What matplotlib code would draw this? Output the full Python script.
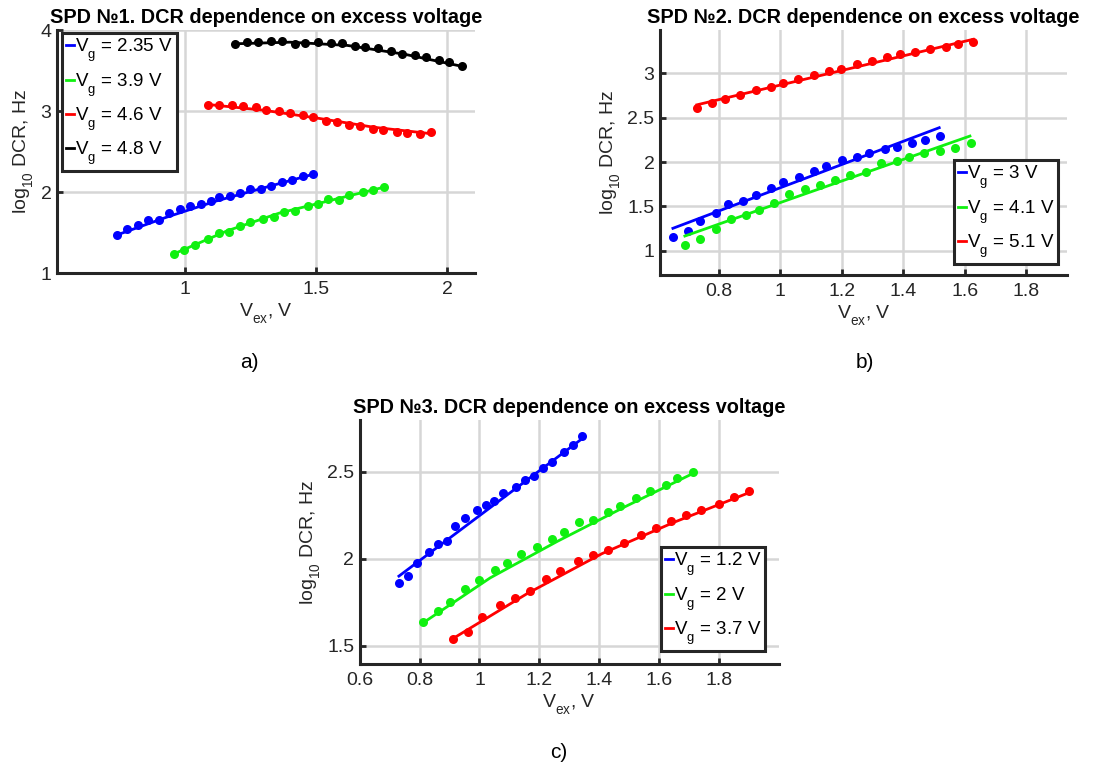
import numpy as np
import matplotlib.pyplot as plt
import matplotlib._mathtext as mt

plt.rcParams['font.family'] = ['Liberation Sans', 'DejaVu Sans']
plt.rcParams['mathtext.fontset'] = 'custom'
plt.rcParams['mathtext.rm'] = 'Liberation Sans'
plt.rcParams['mathtext.it'] = 'Liberation Sans'
# MATLAB drops subscripts lower than matplotlib does
mt.FontConstantsBase.sub1 = 0.75
mt.FontConstantsBase.sub2 = 0.85

# ---- SPD 1 ----
a_blue_x = [0.739, 0.779, 0.819, 0.859, 0.899, 0.939, 0.979, 1.019, 1.059, 1.099,
            1.129, 1.170, 1.209, 1.249, 1.290, 1.330, 1.369, 1.410, 1.449, 1.490]
a_blue_y = [1.464, 1.538, 1.596, 1.654, 1.654, 1.737, 1.786, 1.828, 1.853, 1.894,
            1.935, 1.952, 1.993, 2.035, 2.043, 2.076, 2.126, 2.151, 2.192, 2.221]
a_green_x = [0.958, 0.997, 1.039, 1.088, 1.128, 1.169, 1.209, 1.249, 1.299, 1.338,
             1.379, 1.418, 1.469, 1.509, 1.547, 1.588, 1.627, 1.678, 1.718, 1.760]
a_green_y = [1.236, 1.290, 1.340, 1.422, 1.489, 1.505, 1.580, 1.629, 1.662, 1.695,
             1.753, 1.770, 1.828, 1.853, 1.911, 1.902, 1.960, 2.002, 2.026, 2.060]
a_red_x = [1.089, 1.130, 1.178, 1.222, 1.270, 1.309, 1.360, 1.401, 1.449, 1.490,
           1.538, 1.579, 1.627, 1.668, 1.716, 1.757, 1.808, 1.849, 1.897, 1.938]
a_red_y = [3.077, 3.077, 3.069, 3.061, 3.044, 3.011, 3.003, 2.978, 2.945, 2.928,
           2.879, 2.862, 2.829, 2.813, 2.780, 2.763, 2.746, 2.730, 2.722, 2.738]
a_black_x = [1.190, 1.238, 1.279, 1.328, 1.369, 1.419, 1.458, 1.509, 1.557, 1.598,
             1.648, 1.688, 1.737, 1.788, 1.828, 1.878, 1.919, 1.968, 2.008, 2.059]
a_black_y = [3.826, 3.847, 3.855, 3.863, 3.863, 3.822, 3.835, 3.851, 3.835, 3.839,
             3.801, 3.789, 3.772, 3.739, 3.698, 3.690, 3.661, 3.624, 3.607, 3.557]
# fitted curves (knots)
a_blue_fx = [0.74, 0.93, 1.12, 1.31, 1.49]
a_blue_fy = [1.47, 1.69, 1.89, 2.06, 2.22]
a_green_fx = [0.96, 1.16, 1.36, 1.56, 1.76]
a_green_fy = [1.24, 1.52, 1.74, 1.90, 2.06]
a_red_fx = [1.09, 1.30, 1.51, 1.72, 1.94]
a_red_fy = [3.08, 3.01, 2.91, 2.80, 2.72]
a_black_fx = [1.19, 1.40, 1.62, 1.84, 2.06]
a_black_fy = [3.83, 3.85, 3.81, 3.70, 3.55]
a_labels = ['2.35', '3.9', '4.6', '4.8']

# ---- SPD 2 ----
b_blue_x = [0.650, 0.700, 0.739, 0.789, 0.829, 0.878, 0.920, 0.970, 1.009, 1.060,
            1.109, 1.148, 1.199, 1.248, 1.289, 1.339, 1.380, 1.429, 1.470, 1.520]
b_blue_y = [1.158, 1.226, 1.331, 1.429, 1.526, 1.564, 1.628, 1.703, 1.778, 1.835,
            1.902, 1.955, 2.023, 2.060, 2.105, 2.143, 2.173, 2.218, 2.248, 2.297]
b_green_x = [0.689, 0.739, 0.789, 0.840, 0.889, 0.929, 0.980, 1.029, 1.079, 1.130,
             1.179, 1.228, 1.278, 1.328, 1.378, 1.418, 1.469, 1.520, 1.570, 1.620]
b_green_y = [1.064, 1.135, 1.241, 1.353, 1.402, 1.459, 1.541, 1.639, 1.699, 1.741,
             1.797, 1.853, 1.891, 1.985, 2.015, 2.053, 2.105, 2.128, 2.158, 2.211]
b_red_x = [0.728, 0.778, 0.818, 0.869, 0.919, 0.968, 1.008, 1.058, 1.108, 1.158,
           1.198, 1.248, 1.298, 1.348, 1.389, 1.438, 1.487, 1.539, 1.579, 1.628]
b_red_y = [2.605, 2.669, 2.711, 2.756, 2.812, 2.850, 2.887, 2.940, 2.977, 3.030,
           3.053, 3.105, 3.143, 3.180, 3.218, 3.244, 3.278, 3.301, 3.327, 3.357]
b_blue_fx = [0.650, 1.517]
b_blue_fy = [1.252, 2.387]
b_green_fx = [0.689, 1.617]
b_green_fy = [1.165, 2.293]
b_red_fx = [0.728, 1.628]
b_red_fy = [2.645, 3.385]
b_labels = ['3', '4.1', '5.1']

# ---- SPD 3 ----
c_blue_x = [0.731, 0.761, 0.791, 0.831, 0.860, 0.891, 0.920, 0.951, 0.991, 1.021,
            1.050, 1.080, 1.121, 1.151, 1.181, 1.211, 1.242, 1.282, 1.312, 1.342]
c_blue_y = [1.860, 1.902, 1.975, 2.037, 2.083, 2.102, 2.187, 2.237, 2.283, 2.312,
            2.331, 2.379, 2.413, 2.456, 2.479, 2.521, 2.556, 2.613, 2.652, 2.706]
c_green_x = [0.811, 0.861, 0.901, 0.951, 1.000, 1.051, 1.091, 1.140, 1.191, 1.242,
             1.281, 1.332, 1.381, 1.431, 1.470, 1.522, 1.571, 1.622, 1.660, 1.712]
c_green_y = [1.633, 1.698, 1.750, 1.825, 1.875, 1.937, 1.975, 2.029, 2.067, 2.113,
             2.152, 2.210, 2.225, 2.271, 2.306, 2.348, 2.392, 2.425, 2.467, 2.498]
c_red_x = [0.911, 0.961, 1.010, 1.069, 1.119, 1.169, 1.221, 1.270, 1.330, 1.381,
           1.431, 1.482, 1.539, 1.590, 1.640, 1.691, 1.741, 1.800, 1.849, 1.900]
c_red_y = [1.537, 1.579, 1.663, 1.735, 1.773, 1.817, 1.885, 1.927, 1.985, 2.023,
           2.052, 2.090, 2.138, 2.177, 2.215, 2.254, 2.283, 2.317, 2.356, 2.388]
c_blue_fx = [0.731, 1.342]
c_blue_fy = [1.90, 2.69]
c_green_fx = [0.811, 1.036, 1.26, 1.487, 1.712]
c_green_fy = [1.63, 1.89, 2.10, 2.30, 2.49]
c_red_fx = [0.911, 1.16, 1.41, 1.65, 1.90]
c_red_fy = [1.54, 1.80, 2.03, 2.21, 2.38]
c_labels = ['1.2', '2', '3.7']

BLUE = '#0000ff'
GREEN = '#10f010'
RED = '#ff0000'
BLACK = '#000000'
DARK = '#262626'


def style_axes(ax, title, xlim, ylim, xticks, yticks, xtl, ytl):
    ax.set_xlim(*xlim)
    ax.set_ylim(*ylim)
    ax.set_xticks(xticks)
    ax.set_yticks(yticks)
    ax.set_xticklabels(xtl)
    ax.set_yticklabels(ytl)
    ax.grid(True, color='#d6d6d6', linewidth=1.8)
    ax.set_axisbelow(True)
    for s in ['top', 'right']:
        ax.spines[s].set_visible(False)
    for s in ['left', 'bottom']:
        ax.spines[s].set_linewidth(2.2)
        ax.spines[s].set_color(DARK)
    ax.tick_params(direction='in', length=4, width=2, colors=DARK, labelsize=14)
    ax.tick_params(axis='x', pad=6)
    ax.tick_params(axis='y', pad=4)
    ax.set_title(title, fontsize=14.3, fontweight='bold', pad=5)
    ax.set_xlabel(r'V$_\mathregular{ex}$, V', fontsize=14, color=DARK, labelpad=2)
    ax.set_ylabel(r'log$_\mathregular{10}$ DCR, Hz', fontsize=14, color=DARK, labelpad=3)


def draw(ax, series, labels):
    handles = []
    for (px, py, fx, fy, col), lab in zip(series, labels):
        ax.plot(px, py, 'o', color=col, markersize=6.5, markeredgewidth=0)
        h, = ax.plot(fx, fy, '-', color=col, linewidth=2)
        handles.append((h, r'V$_\mathregular{g}$ = ' + lab + ' V'))
    return handles


def add_legend(ax, handles, anchor):
    leg = ax.legend([h for h, _ in handles], [t for _, t in handles],
                    loc='upper left', bbox_to_anchor=anchor,
                    bbox_transform=ax.figure.transFigure,
                    fontsize=13.5, handlelength=0.45, handletextpad=0.05,
                    labelspacing=0.35, borderpad=0.2, borderaxespad=0,
                    fancybox=False, framealpha=1)
    leg.get_frame().set_edgecolor(DARK)
    leg.get_frame().set_linewidth(2.2)


fig = plt.figure(figsize=(11, 7.68), dpi=100)

ax1 = fig.add_axes([0.0518, 0.6445, 0.38, 0.3164])
h1 = draw(ax1, [(a_blue_x, a_blue_y, a_blue_fx, a_blue_fy, BLUE),
                (a_green_x, a_green_y, a_green_fx, a_green_fy, GREEN),
                (a_red_x, a_red_y, a_red_fx, a_red_fy, RED),
                (a_black_x, a_black_y, a_black_fx, a_black_fy, BLACK)], a_labels)
style_axes(ax1, 'SPD №1. DCR dependence on excess voltage',
           (0.511, 2.107), (1, 4), [1, 1.5, 2], [1, 2, 3, 4],
           ['1', '1.5', '2'], ['1', '2', '3', '4'])
add_legend(ax1, h1, (62 / 1100, 1 - 33 / 768))

ax2 = fig.add_axes([0.6, 0.642, 0.37, 0.319])
h2 = draw(ax2, [(b_blue_x, b_blue_y, b_blue_fx, b_blue_fy, BLUE),
                (b_green_x, b_green_y, b_green_fx, b_green_fy, GREEN),
                (b_red_x, b_red_y, b_red_fx, b_red_fy, RED)], b_labels)
style_axes(ax2, 'SPD №2. DCR dependence on excess voltage',
           (0.608, 1.933), (0.726, 3.49), [0.8, 1, 1.2, 1.4, 1.6, 1.8],
           [1, 1.5, 2, 2.5, 3],
           ['0.8', '1', '1.2', '1.4', '1.6', '1.8'], ['1', '1.5', '2', '2.5', '3'])
add_legend(ax2, h2, (954 / 1100, 1 - 160 / 768))

ax3 = fig.add_axes([0.327, 0.1354, 0.381, 0.318])
h3 = draw(ax3, [(c_blue_x, c_blue_y, c_blue_fx, c_blue_fy, BLUE),
                (c_green_x, c_green_y, c_green_fx, c_green_fy, GREEN),
                (c_red_x, c_red_y, c_red_fx, c_red_fy, RED)], c_labels)
style_axes(ax3, 'SPD №3. DCR dependence on excess voltage',
           (0.6, 2.0), (1.394, 2.80), [0.6, 0.8, 1, 1.2, 1.4, 1.6, 1.8],
           [1.5, 2, 2.5],
           ['0.6', '0.8', '1', '1.2', '1.4', '1.6', '1.8'], ['1.5', '2', '2.5'])
add_legend(ax3, h3, (661 / 1100, 1 - 547 / 768))

fig.text(249 / 1100, 1 - 362 / 768, 'a)', fontsize=15, ha='center', va='center')
fig.text(865 / 1100, 1 - 362 / 768, 'b)', fontsize=15, ha='center', va='center')
fig.text(559 / 1100, 1 - 753 / 768, 'c)', fontsize=15, ha='center', va='center')

fig.savefig('out.png', dpi=100, facecolor='white')
